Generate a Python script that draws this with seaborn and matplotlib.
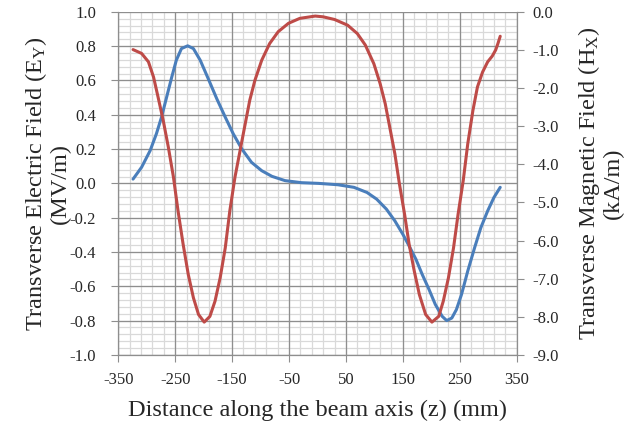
import numpy as np
import pandas as pd
import seaborn as sns
import matplotlib.pyplot as plt
from matplotlib.ticker import MultipleLocator, FormatStrFormatter

# Transverse fields along the beam axis
z_e = [-324, -309, -294, -283, -274, -265, -256, -248, -239, -228, -218, -206,
       -192, -177, -162, -148, -133, -116, -98, -80, -57, -28, 2, 36, 64, 87,
       104, 121, 136, 150, 161, 173, 184, 196, 207, 219, 227, 236, 244, 253,
       264, 276, 287, 299, 310, 321]
e_y = [0.025, 0.094, 0.191, 0.289, 0.386, 0.503, 0.62, 0.718, 0.786, 0.802,
       0.786, 0.718, 0.611, 0.494, 0.386, 0.289, 0.201, 0.123, 0.074, 0.041,
       0.016, 0.004, 0.0, -0.008, -0.023, -0.053, -0.092, -0.15, -0.219, -0.297,
       -0.365, -0.443, -0.531, -0.619, -0.706, -0.775, -0.80, -0.785, -0.736,
       -0.648, -0.511, -0.375, -0.258, -0.16, -0.082, -0.023]

z_h = [-324, -309, -297, -288, -280, -271, -262, -253, -245, -236, -227, -218,
       -209, -199, -189, -180, -171, -162, -154, -145, -136, -127, -119, -110,
       -98, -84, -69, -51, -31, -4, 10, 30, 53, 70, 84, 99, 110, 119, 127, 136,
       144, 153, 161, 170, 179, 190, 201, 213, 221, 230, 239, 247, 256, 264,
       273, 281, 290, 299, 307, 313, 317, 321]
h_x = [-0.99, -1.09, -1.31, -1.71, -2.24, -2.85, -3.55, -4.34, -5.22, -6.10,
       -6.89, -7.50, -7.94, -8.14, -7.99, -7.59, -6.98, -6.19, -5.22, -4.34,
       -3.64, -2.94, -2.32, -1.80, -1.27, -0.83, -0.52, -0.30, -0.17, -0.11,
       -0.13, -0.20, -0.35, -0.57, -0.87, -1.36, -1.88, -2.41, -3.03, -3.73,
       -4.52, -5.31, -6.10, -6.80, -7.42, -7.94, -8.14, -7.99, -7.59, -6.98,
       -6.19, -5.31, -4.43, -3.46, -2.59, -1.97, -1.58, -1.31, -1.16, -1.00,
       -0.83, -0.64]

df_e = pd.DataFrame({"z": z_e, "E": e_y})
df_h = pd.DataFrame({"z": z_h, "H": h_x})

sns.set_style("white")
plt.rcParams["font.family"] = ["Liberation Serif", "DejaVu Serif"]
plt.rcParams["mathtext.fontset"] = "custom"
plt.rcParams["mathtext.rm"] = "Liberation Serif"
plt.rcParams["mathtext.it"] = "Liberation Serif"
plt.rcParams["axes.unicode_minus"] = False

fig, ax = plt.subplots(figsize=(6.29, 4.24), dpi=100)
fig.subplots_adjust(left=0.188, right=0.8215, top=0.972, bottom=0.163)
ax2 = ax.twinx()

# excel-like grid: light minor lines under darker major lines
major_c, minor_c = "#8E8E8E", "#D9D9D9"
ax.vlines(np.arange(-350, 351, 20), -1, 1, color=minor_c, lw=0.9, zorder=0.2)
ax.hlines(np.arange(-1, 1.001, 0.04), -350, 350, color=minor_c, lw=0.9, zorder=0.2)
ax.vlines(np.arange(-350, 351, 100), -1, 1, color=major_c, lw=0.9, zorder=0.3)
ax.hlines(np.arange(-1, 1.001, 0.2), -350, 350, color=major_c, lw=0.9, zorder=0.3)

blue = "#4A7EBB"
red = "#BE4B48"
sns.lineplot(data=df_e, x="z", y="E", ax=ax, color=blue, linewidth=2.2)
sns.lineplot(data=df_h, x="z", y="H", ax=ax2, color=red, linewidth=2.2)

ax.set_xlim(-350, 350)
ax.set_ylim(-1.0, 1.0)
ax2.set_ylim(-9.0, 0.0)

ax.set_xticks(np.arange(-350, 351, 100))
ax.yaxis.set_major_locator(MultipleLocator(0.2))
ax.yaxis.set_major_formatter(FormatStrFormatter("%.1f"))
ax2.yaxis.set_major_locator(MultipleLocator(1.0))
ax2.yaxis.set_major_formatter(FormatStrFormatter("%.1f"))

for a in (ax, ax2):
    for s in a.spines.values():
        s.set_visible(False)
for s in (ax.spines["left"], ax.spines["bottom"], ax2.spines["right"]):
    s.set_visible(True)
    s.set_color(major_c)
    s.set_linewidth(0.9)

ax.tick_params(axis="x", direction="out", length=5, color=major_c,
               labelsize=12, pad=7, bottom=True)
ax.tick_params(axis="y", direction="out", length=5, color=major_c,
               labelsize=12, pad=11, left=True)
ax2.tick_params(axis="y", direction="out", length=5, color=major_c,
                labelsize=12, pad=6, right=True)

ax.set_xlabel("Distance along the beam axis (z) (mm)", fontsize=17.5)
ax.xaxis.label.set_va("center")
ax.xaxis.set_label_coords(0.5, -0.162)

ax.set_ylabel("Transverse Electric Field (E$_{\\mathrm{Y}}$)\n(MV/m)",
              fontsize=17.5, linespacing=1.0)
ax.yaxis.label.set_va("center")
ax.yaxis.set_label_coords(-0.179, 0.5)

ax2.set_ylabel("Transverse Magnetic Field (H$_{\\mathrm{X}}$)\n(kA/m)",
               fontsize=17.5, linespacing=1.0)
ax2.yaxis.label.set_va("center")
ax2.yaxis.set_label_coords(1.209, 0.5)

fig.savefig("out.png", dpi=100)
